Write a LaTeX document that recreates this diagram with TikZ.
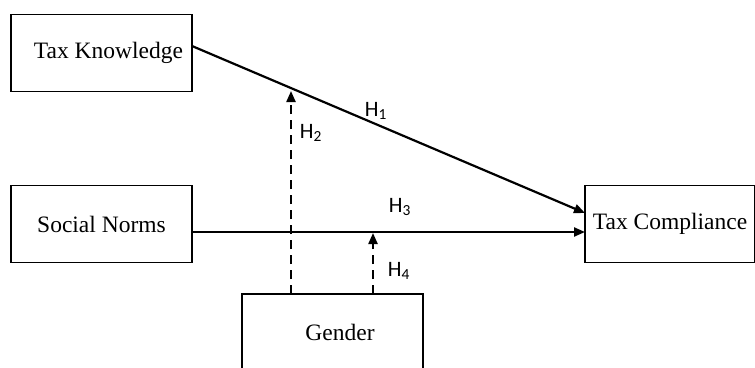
\documentclass[tikz,border=0pt]{standalone}
\usepackage{fontspec}
\setmainfont{Liberation Serif}
\newfontfamily\labfont{Carlito}
\usetikzlibrary{arrows.meta}
\begin{document}
\begin{tikzpicture}[x=1pt,y=-1pt,
  varbox/.style={draw,line width=1.6pt,minimum width=181pt,minimum height=77pt,inner sep=0pt,font=\fontsize{23.5}{28}\selectfont},
  link/.style={line width=2.2pt,-{Triangle[length=11pt,width=9pt]}},
  modlink/.style={link,dash pattern=on 9pt off 6pt},
  hlab/.style={font=\labfont\fontsize{22}{26}\selectfont,inner sep=0pt}]
\clip (0,0) rectangle (755,367);
\useasboundingbox (0,0) rectangle (755,367);
\node[varbox] (tk) at (101.5,53) {\hspace*{14pt}Tax Knowledge};
\node[varbox] (sn) at (101.5,224) {Social Norms};
\node[varbox,minimum width=170pt] (tc) at (670,224) {Tax Compliance};
\node[varbox] (g) at (332.5,332.5) {\hspace*{15pt}Gender};
\coordinate (tkE) at (192,46);
\coordinate (tcH1) at (585,213);
\coordinate (snE) at (192,232);
\coordinate (tcH3) at (585,232);
\coordinate (gA) at (291,294);
\coordinate (gAt) at (291,91);
\coordinate (gB) at (373,294);
\coordinate (gBt) at (373,233);
\draw[link] (tkE) -- (tcH1);
\draw[link] (snE) -- (tcH3);
\draw[modlink] (gA) -- (gAt);
\draw[modlink] (gB) -- (gBt);
\node[hlab] (h1) at (376,111) {H\textsubscript{1}};
\node[hlab] (h2) at (311,133) {H\textsubscript{2}};
\node[hlab] (h3) at (400,207) {H\textsubscript{3}};
\node[hlab] (h4) at (399,271) {H\textsubscript{4}};
\end{tikzpicture}
\end{document}
